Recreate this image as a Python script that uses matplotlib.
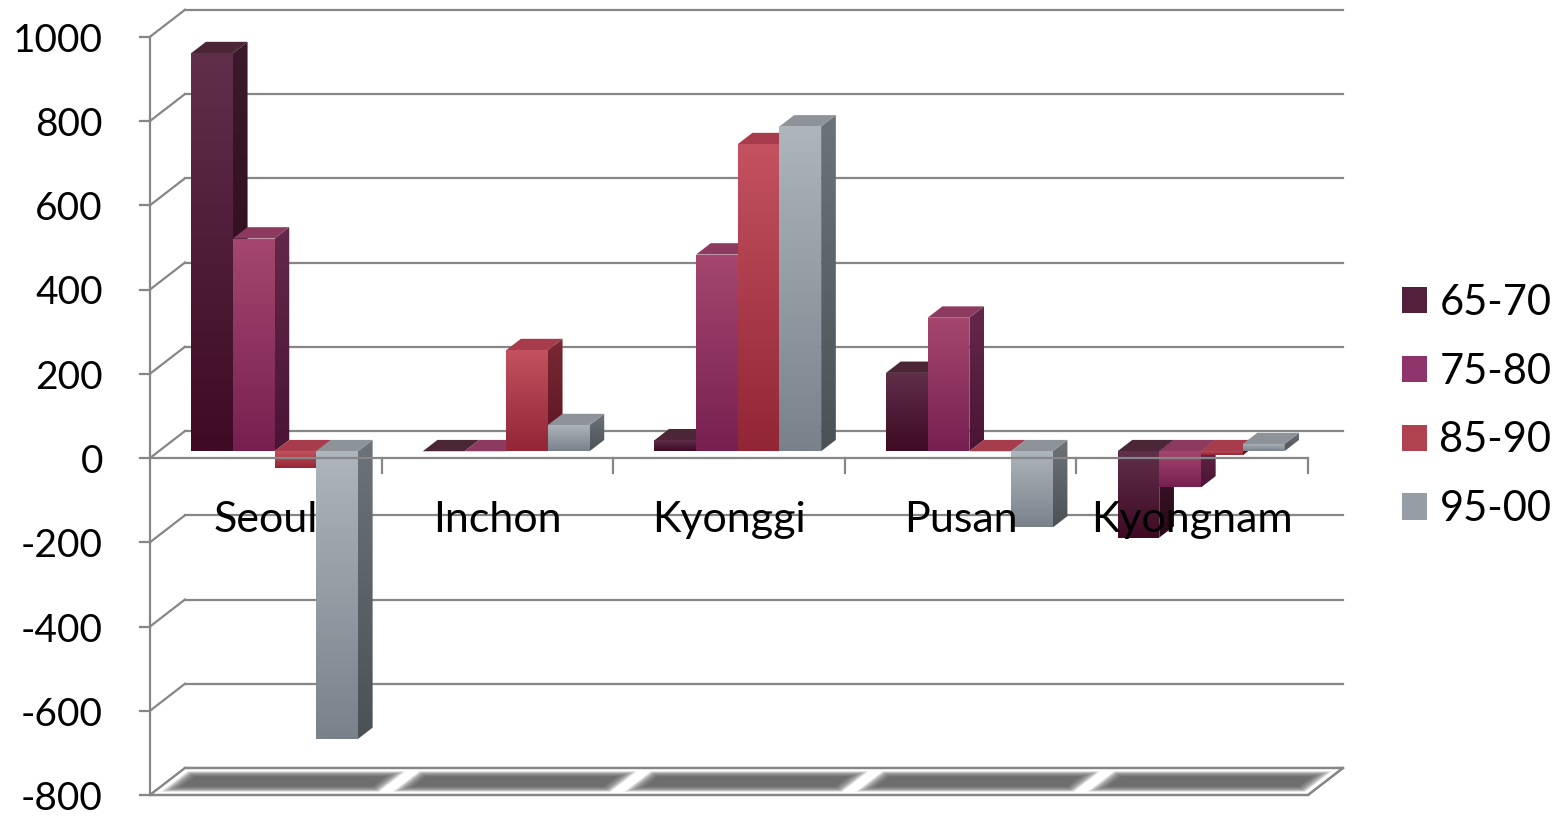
import numpy as np
import matplotlib
matplotlib.use("Agg")
import matplotlib.pyplot as plt
from matplotlib.patches import Polygon
from matplotlib.colors import LinearSegmentedColormap

regions = ["Seoul", "Inchon", "Kyonggi", "Pusan", "Kyongnam"]
periods = ["65-70", "75-80", "85-90", "95-00"]
v65_70 = [945, 0, 26, 186, -205]
v75_80 = [505, 0, 467, 317, -86]
v85_90 = [-40, 240, 729, 0, -10]
v95_00 = [-683, 62, 771, -181, 17]
yticks = [-800, -600, -400, -200, 0, 200, 400, 600, 800, 1000]

series = [v65_70, v75_80, v85_90, v95_00]
# (front top, front bottom, side top, side bottom, top face)
palette = [
    ("#602f4a", "#3e0a24", "#3c1a2c", "#2a0818", "#4a2637"),
    ("#a5476f", "#772050", "#64284a", "#4a1434", "#8c3a60"),
    ("#c4525f", "#922536", "#7a2834", "#5c1522", "#a63c4c"),
    ("#aeb5bc", "#79828b", "#6c7379", "#4a5157", "#8d9398"),
]
legend_cols = ["#52203a", "#8f346a", "#b0414f", "#959da5"]

W, H = 1563, 817
fig = plt.figure(figsize=(W / 100, H / 100), dpi=100)
ax = fig.add_axes([0, 0, 1, 1])
ax.axis("off")

# pixel layout of the oblique box
x0_px, cat_px = 150.0, 231.6
zero_px, ppu = 458.0, 0.42125
DX = 35.0 / cat_px
DY = 27.0 / ppu
grid_c = "#868686"
lw = 1.6
n = len(regions)
ymin, ymax = yticks[0], yticks[-1]

# back wall gridlines and left wall connectors
for v in yticks:
    ax.plot([DX, n + DX], [v + DY, v + DY], color=grid_c, lw=lw, zorder=1)
    ax.plot([0, DX], [v, v + DY], color=grid_c, lw=lw, zorder=1)

# floor slab with soft dark bands per category
floor = [(0, ymin), (n, ymin), (n + DX, ymin + DY), (DX, ymin + DY)]
ax.add_patch(Polygon(floor, closed=True, facecolor="white", edgecolor=grid_c,
                     lw=lw, zorder=2))
layers = 14
for i in range(n):
    for k in range(layers):
        f = k / (layers - 1)
        ix = 0.03 + 0.06 * f
        t0, t1 = 0.12 + 0.2 * f, 0.88 - 0.2 * f
        pts = [(i + ix + t0 * DX, ymin + t0 * DY),
               (i + 1 - ix + t0 * DX, ymin + t0 * DY),
               (i + 1 - ix + t1 * DX, ymin + t1 * DY),
               (i + ix + t1 * DX, ymin + t1 * DY)]
        ax.add_patch(Polygon(pts, closed=True, facecolor="#5a5a5a",
                             edgecolor="none", alpha=0.13, zorder=2.1))
ax.plot([0, n], [ymin, ymin], color=grid_c, lw=lw, zorder=2.2)
ax.plot([DX, n + DX], [ymin + DY, ymin + DY], color=grid_c, lw=lw, zorder=2.2)
ax.plot([n, n + DX], [ymin, ymin + DY], color=grid_c, lw=lw, zorder=2.2)

grad = np.linspace(0, 1, 128).reshape(-1, 1)

def shade(poly, lo_c, hi_c, z):
    xs = [p[0] for p in poly]
    ys = [p[1] for p in poly]
    cmap = LinearSegmentedColormap.from_list("g", [lo_c, hi_c])
    patch = Polygon(poly, closed=True, facecolor="none", edgecolor="none")
    ax.add_patch(patch)
    im = ax.imshow(grad, extent=[min(xs), max(xs), min(ys), max(ys)],
                   origin="lower", cmap=cmap, aspect="auto", zorder=z,
                   interpolation="bilinear")
    im.set_clip_path(patch)

# bars
bw = 0.18
off = 0.14
d0, dd = 0.25, 0.42
z = 3
for i in range(n):
    for j, vals in enumerate(series):
        v = vals[i]
        ftop, fbot, stop, sbot, tcol = palette[j]
        x = i + off + j * bw + d0 * DX
        base = d0 * DY
        top = v + d0 * DY
        lo, hi = min(base, top), max(base, top)
        if hi - lo > 0.5:
            side = [(x + bw, lo), (x + bw, hi),
                    (x + bw + dd * DX, hi + dd * DY), (x + bw + dd * DX, lo + dd * DY)]
            shade(side, sbot, stop, z)
        cap = [(x, hi), (x + bw, hi), (x + bw + dd * DX, hi + dd * DY), (x + dd * DX, hi + dd * DY)]
        ax.add_patch(Polygon(cap, closed=True, facecolor=tcol, edgecolor="none", zorder=z + 0.1))
        if hi - lo > 0.5:
            front = [(x, lo), (x + bw, lo), (x + bw, hi), (x, hi)]
            shade(front, fbot, ftop, z + 0.2)
        z += 0.5

zf = z + 1
# front value axis with ticks
ax.plot([0, 0], [ymin, ymax], color=grid_c, lw=lw, zorder=zf)
tick_dx = 10.0 / cat_px
for v in yticks:
    ax.plot([-tick_dx, 0], [v, v], color=grid_c, lw=lw, zorder=zf)
    ax.text((103 - x0_px) / cat_px, v - 4.0 / ppu, f"{v}", ha="right", va="center",
            fontsize=28, family="Lato", zorder=zf)

# front category axis at zero
ax.plot([0, n], [0, 0], color=grid_c, lw=lw, zorder=zf)
for i in range(1, n + 1):
    ax.plot([i, i], [0, -15.0 / ppu], color=grid_c, lw=lw, zorder=zf)
for i, name in enumerate(regions):
    ax.text(i + 0.5, (zero_px - 520) / ppu, name, ha="center", va="center",
            fontsize=31, family="Lato", zorder=zf + 1)

handles = [plt.Rectangle((0, 0), 1, 1, facecolor=c, edgecolor="none") for c in legend_cols]
fig.legend(handles, periods, loc="center left", bbox_to_anchor=(0.873, 0.503),
           frameon=False, handlelength=0.6, handleheight=0.6,
           handletextpad=0.3, labelspacing=0.74, prop={"family": "Lato", "size": 30})

ax.set_xlim(-x0_px / cat_px, (W - x0_px) / cat_px)
ax.set_ylim((zero_px - H) / ppu, zero_px / ppu)
fig.savefig("out.png", dpi=100)
